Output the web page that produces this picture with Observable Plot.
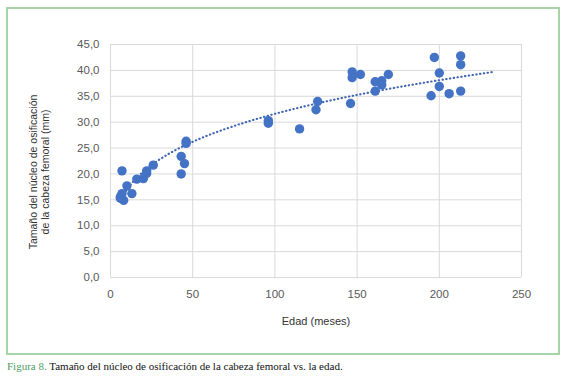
<!DOCTYPE html>
<html><head><meta charset="utf-8">
<script src="https://cdn.jsdelivr.net/npm/d3@7"></script>
<script src="https://cdn.jsdelivr.net/npm/@observablehq/plot@0.6"></script>
<style>
html,body{margin:0;padding:0;background:#fff;width:567px;height:382px;overflow:hidden}
#frame{position:absolute;left:6px;top:7px;width:550px;height:344px;border:2px solid #a6d4a6;}
#chart{position:absolute;left:0;top:0}
#caption{position:absolute;left:7px;top:360px;font-family:"Liberation Serif",serif;font-size:11px;color:#111;white-space:nowrap}
#caption .fig{color:#4f9d5f}
</style></head>
<body>
<div id="frame"></div>
<div id="chart"></div>
<div id="caption"><span class="fig">Figura 8.</span> Tamaño del núcleo de osificación de la cabeza femoral vs. la edad.</div>
<script>
// Edad (meses)
const edad = [6, 7, 8, 6, 7, 10, 13, 16, 20, 22, 22, 26, 43, 43, 45, 46, 46,
  96, 96, 115, 125, 126, 146, 147, 147, 152, 161, 161, 165, 165, 169,
  195, 197, 200, 200, 206, 213, 213, 213];
// Tamaño del núcleo (mm)
const tamano = [15.3, 16.2, 14.9, 15.6, 20.6, 17.7, 16.2, 19.0, 19.1, 20.1, 20.6, 21.7, 23.4, 20.0, 22.0, 26.3, 25.9,
  30.3, 29.8, 28.7, 32.4, 34.0, 33.6, 39.7, 38.6, 39.2, 37.8, 36.0, 38.0, 37.2, 39.2,
  35.1, 42.5, 39.5, 36.9, 35.5, 42.8, 41.1, 36.0];
const xTicks = [0, 50, 100, 150, 200, 250];
const yTicks = [0, 5, 10, 15, 20, 25, 30, 35, 40, 45];
const xLabel = "Edad (meses)";
const yLabel = "Tamaño del núcleo de osificación\nde la cabeza femoral (mm)";
const trendForward = 20; // forecast forward (months)

const data = edad.map((e, i) => ({edad: e, tamano: tamano[i]}));

// Power trendline (least squares on ln-ln), as in a spreadsheet
const lx = data.map(d => Math.log(d.edad)), ly = data.map(d => Math.log(d.tamano));
const mx = d3.mean(lx), my = d3.mean(ly);
const b = d3.sum(lx, (v, i) => (v - mx) * (ly[i] - my)) / d3.sum(lx, v => (v - mx) ** 2);
const a = Math.exp(my - b * mx);
const x0 = d3.min(edad), x1 = d3.max(edad) + trendForward;
const trend = d3.range(0, 201).map(i => {
  const x = x0 + (x1 - x0) * i / 200;
  return {edad: x, tamano: a * Math.pow(x, b)};
});

const fmt = d => d.toFixed(1).replace(".", ",");

const chart = Plot.plot({
  width: 567,
  height: 355,
  marginLeft: 110,
  marginRight: 46,
  marginTop: 44,
  marginBottom: 78,
  style: {fontFamily: "Liberation Sans, Arial, sans-serif", fontSize: "11px", background: "transparent"},
  x: {domain: [0, 250]},
  y: {domain: [0, 45]},
  marks: [
    Plot.gridX(xTicks, {stroke: "#d9d9d9", strokeOpacity: 1, strokeWidth: 1}),
    Plot.gridY(yTicks, {stroke: "#d9d9d9", strokeOpacity: 1, strokeWidth: 1}),
    Plot.axisX(xTicks, {tickSize: 0, tickPadding: 12, color: "#595959", fontSize: 11.5, label: null}),
    Plot.axisY(yTicks, {tickSize: 0, tickPadding: 11, tickFormat: fmt, color: "#595959", fontSize: 11.5, label: null}),
    Plot.text([xLabel], {text: d => d, frameAnchor: "bottom", dy: 47, fill: "#333", fontSize: 11}),
    Plot.text([yLabel], {text: d => d, frameAnchor: "left", rotate: -90, dx: -71, dy: 11,
      textAnchor: "middle", lineAnchor: "middle", lineHeight: 1.1, fill: "#333", fontSize: 10.5}),
    Plot.line(trend, {x: "edad", y: "tamano", stroke: "#3f64b0", strokeWidth: 2.1, strokeDasharray: "0.4,3.4", strokeLinecap: "round"}),
    Plot.dot(data, {x: "edad", y: "tamano", r: 4.7, fill: "#4472c4", stroke: "none"})
  ]
});
document.getElementById("chart").appendChild(chart);
</script>
</body></html>
